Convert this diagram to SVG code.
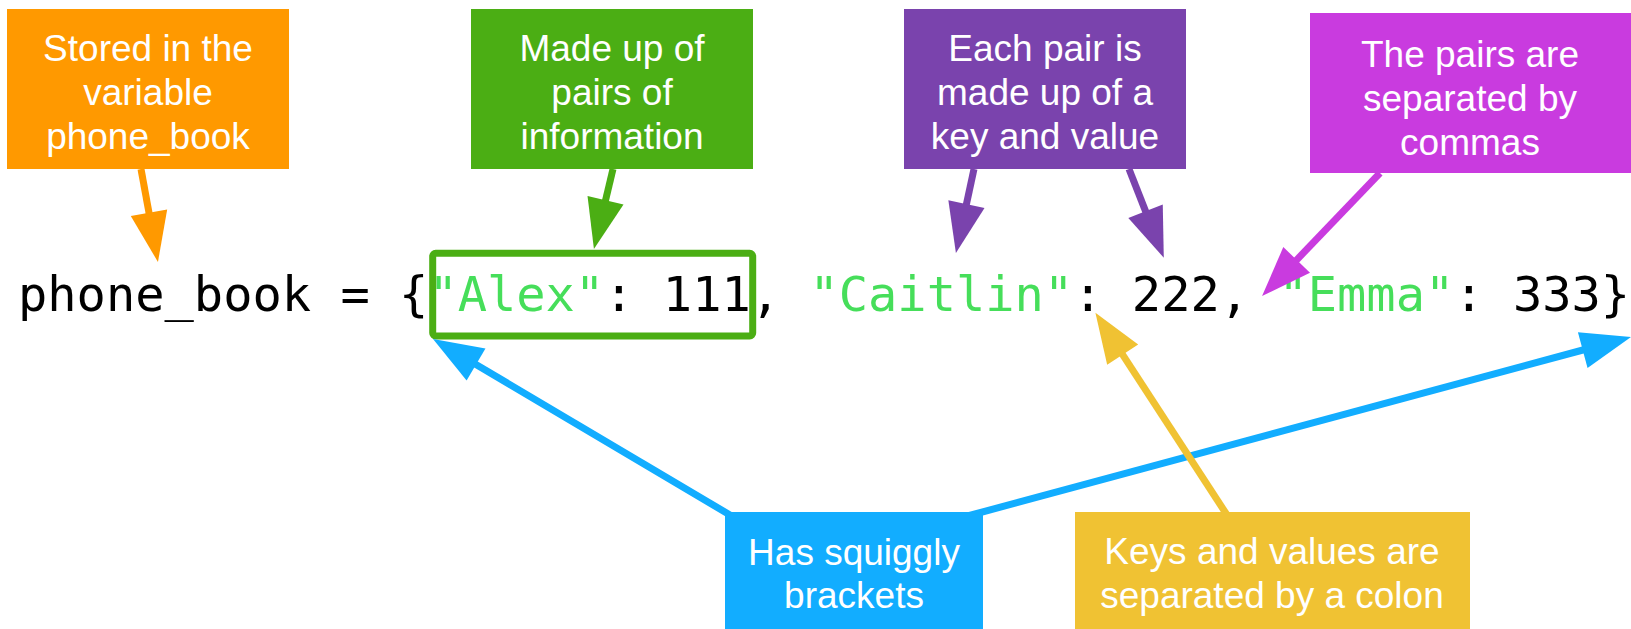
<svg xmlns="http://www.w3.org/2000/svg" width="1631" height="629" viewBox="0 0 1631 629">
<style>
.lbl{font-family:"Liberation Sans",Arial,sans-serif;font-size:37px;fill:#fff;text-anchor:middle}
.code{font-family:"DejaVu Sans Mono",monospace;font-size:48.7px;fill:#000}
.key{fill:#46de5a}
.ln{fill:none;stroke-width:7}
</style>
<defs>
<marker id="hOr" markerUnits="userSpaceOnUse" markerWidth="52" markerHeight="38" refX="0" refY="18.5" orient="auto" overflow="visible"><path d="M-4,0 L46,18.5 L-4,37 z" fill="#ff9900"/></marker>
<marker id="hGr" markerUnits="userSpaceOnUse" markerWidth="52" markerHeight="38" refX="0" refY="18.5" orient="auto" overflow="visible"><path d="M-4,0 L46,18.5 L-4,37 z" fill="#4bae14"/></marker>
<marker id="hPu" markerUnits="userSpaceOnUse" markerWidth="52" markerHeight="38" refX="0" refY="18.5" orient="auto" overflow="visible"><path d="M-4,0 L46,18.5 L-4,37 z" fill="#7a43ad"/></marker>
<marker id="hMa" markerUnits="userSpaceOnUse" markerWidth="52" markerHeight="38" refX="0" refY="18.5" orient="auto" overflow="visible"><path d="M-4,0 L46,18.5 L-4,37 z" fill="#c93bdf"/></marker>
<marker id="hBl" markerUnits="userSpaceOnUse" markerWidth="52" markerHeight="38" refX="0" refY="18.5" orient="auto" overflow="visible"><path d="M-4,0 L46,18.5 L-4,37 z" fill="#12adff"/></marker>
<marker id="hYe" markerUnits="userSpaceOnUse" markerWidth="52" markerHeight="38" refX="0" refY="18.5" orient="auto" overflow="visible"><path d="M-4,0 L46,18.5 L-4,37 z" fill="#f0c233"/></marker>
</defs>
<rect width="1631" height="629" fill="#fff"/>

<g id="code">
<text class="code" x="18" y="311" xml:space="preserve">phone_book = {<tspan class="key">"Alex"</tspan>: 111, <tspan class="key">"Caitlin"</tspan>: 222, <tspan class="key">"Emma"</tspan>: 333}</text>
<rect x="432.7" y="253.3" width="320" height="82.7" rx="3" fill="none" stroke="#4bae14" stroke-width="7"/>
</g>

<g id="connectors">
<line class="ln" stroke="#ff9900" x1="141" y1="169" x2="149.7" y2="216.7" marker-end="url(#hOr)"/>
<line class="ln" stroke="#4bae14" x1="613" y1="169" x2="604.6" y2="204.2" marker-end="url(#hGr)"/>
<line class="ln" stroke="#7a43ad" x1="974" y1="169" x2="965.6" y2="208" marker-end="url(#hPu)"/>
<line class="ln" stroke="#7a43ad" x1="1129" y1="169" x2="1147" y2="214.9" marker-end="url(#hPu)"/>
<line class="ln" stroke="#c93bdf" x1="1380" y1="173" x2="1293.9" y2="262.8" marker-end="url(#hMa)"/>
<line class="ln" stroke="#12adff" x1="730" y1="515" x2="472.6" y2="362.5" marker-end="url(#hBl)"/>
<line class="ln" stroke="#12adff" x1="960" y1="518" x2="1586.6" y2="349" marker-end="url(#hBl)"/>
<line class="ln" stroke="#f0c233" x1="1227" y1="515" x2="1120.5" y2="351.3" marker-end="url(#hYe)"/>
</g>

<g id="node-stored">
<rect x="7" y="9" width="282" height="160" fill="#ff9900"/>
<text class="lbl" x="148" y="61">Stored in the</text>
<text class="lbl" x="148" y="105">variable</text>
<text class="lbl" x="148" y="149">phone_book</text>
</g>
<g id="node-pairs">
<rect x="471" y="9" width="282" height="160" fill="#4bae14"/>
<text class="lbl" x="612" y="61">Made up of</text>
<text class="lbl" x="612" y="105">pairs of</text>
<text class="lbl" x="612" y="149">information</text>
</g>
<g id="node-keyvalue">
<rect x="904" y="9" width="282" height="160" fill="#7a43ad"/>
<text class="lbl" x="1045" y="61">Each pair is</text>
<text class="lbl" x="1045" y="105">made up of a</text>
<text class="lbl" x="1045" y="149">key and value</text>
</g>
<g id="node-commas">
<rect x="1310" y="13" width="321" height="160" fill="#c93bdf"/>
<text class="lbl" x="1470" y="67">The pairs are</text>
<text class="lbl" x="1470" y="111">separated by</text>
<text class="lbl" x="1470" y="155">commas</text>
</g>
<g id="node-brackets">
<rect x="725" y="512" width="258" height="117" fill="#12adff"/>
<text class="lbl" x="854" y="565">Has squiggly</text>
<text class="lbl" x="854" y="608">brackets</text>
</g>
<g id="node-colon">
<rect x="1075" y="512" width="395" height="117" fill="#f0c233"/>
<text class="lbl" x="1272" y="564">Keys and values are</text>
<text class="lbl" x="1272" y="608">separated by a colon</text>
</g>
</svg>
